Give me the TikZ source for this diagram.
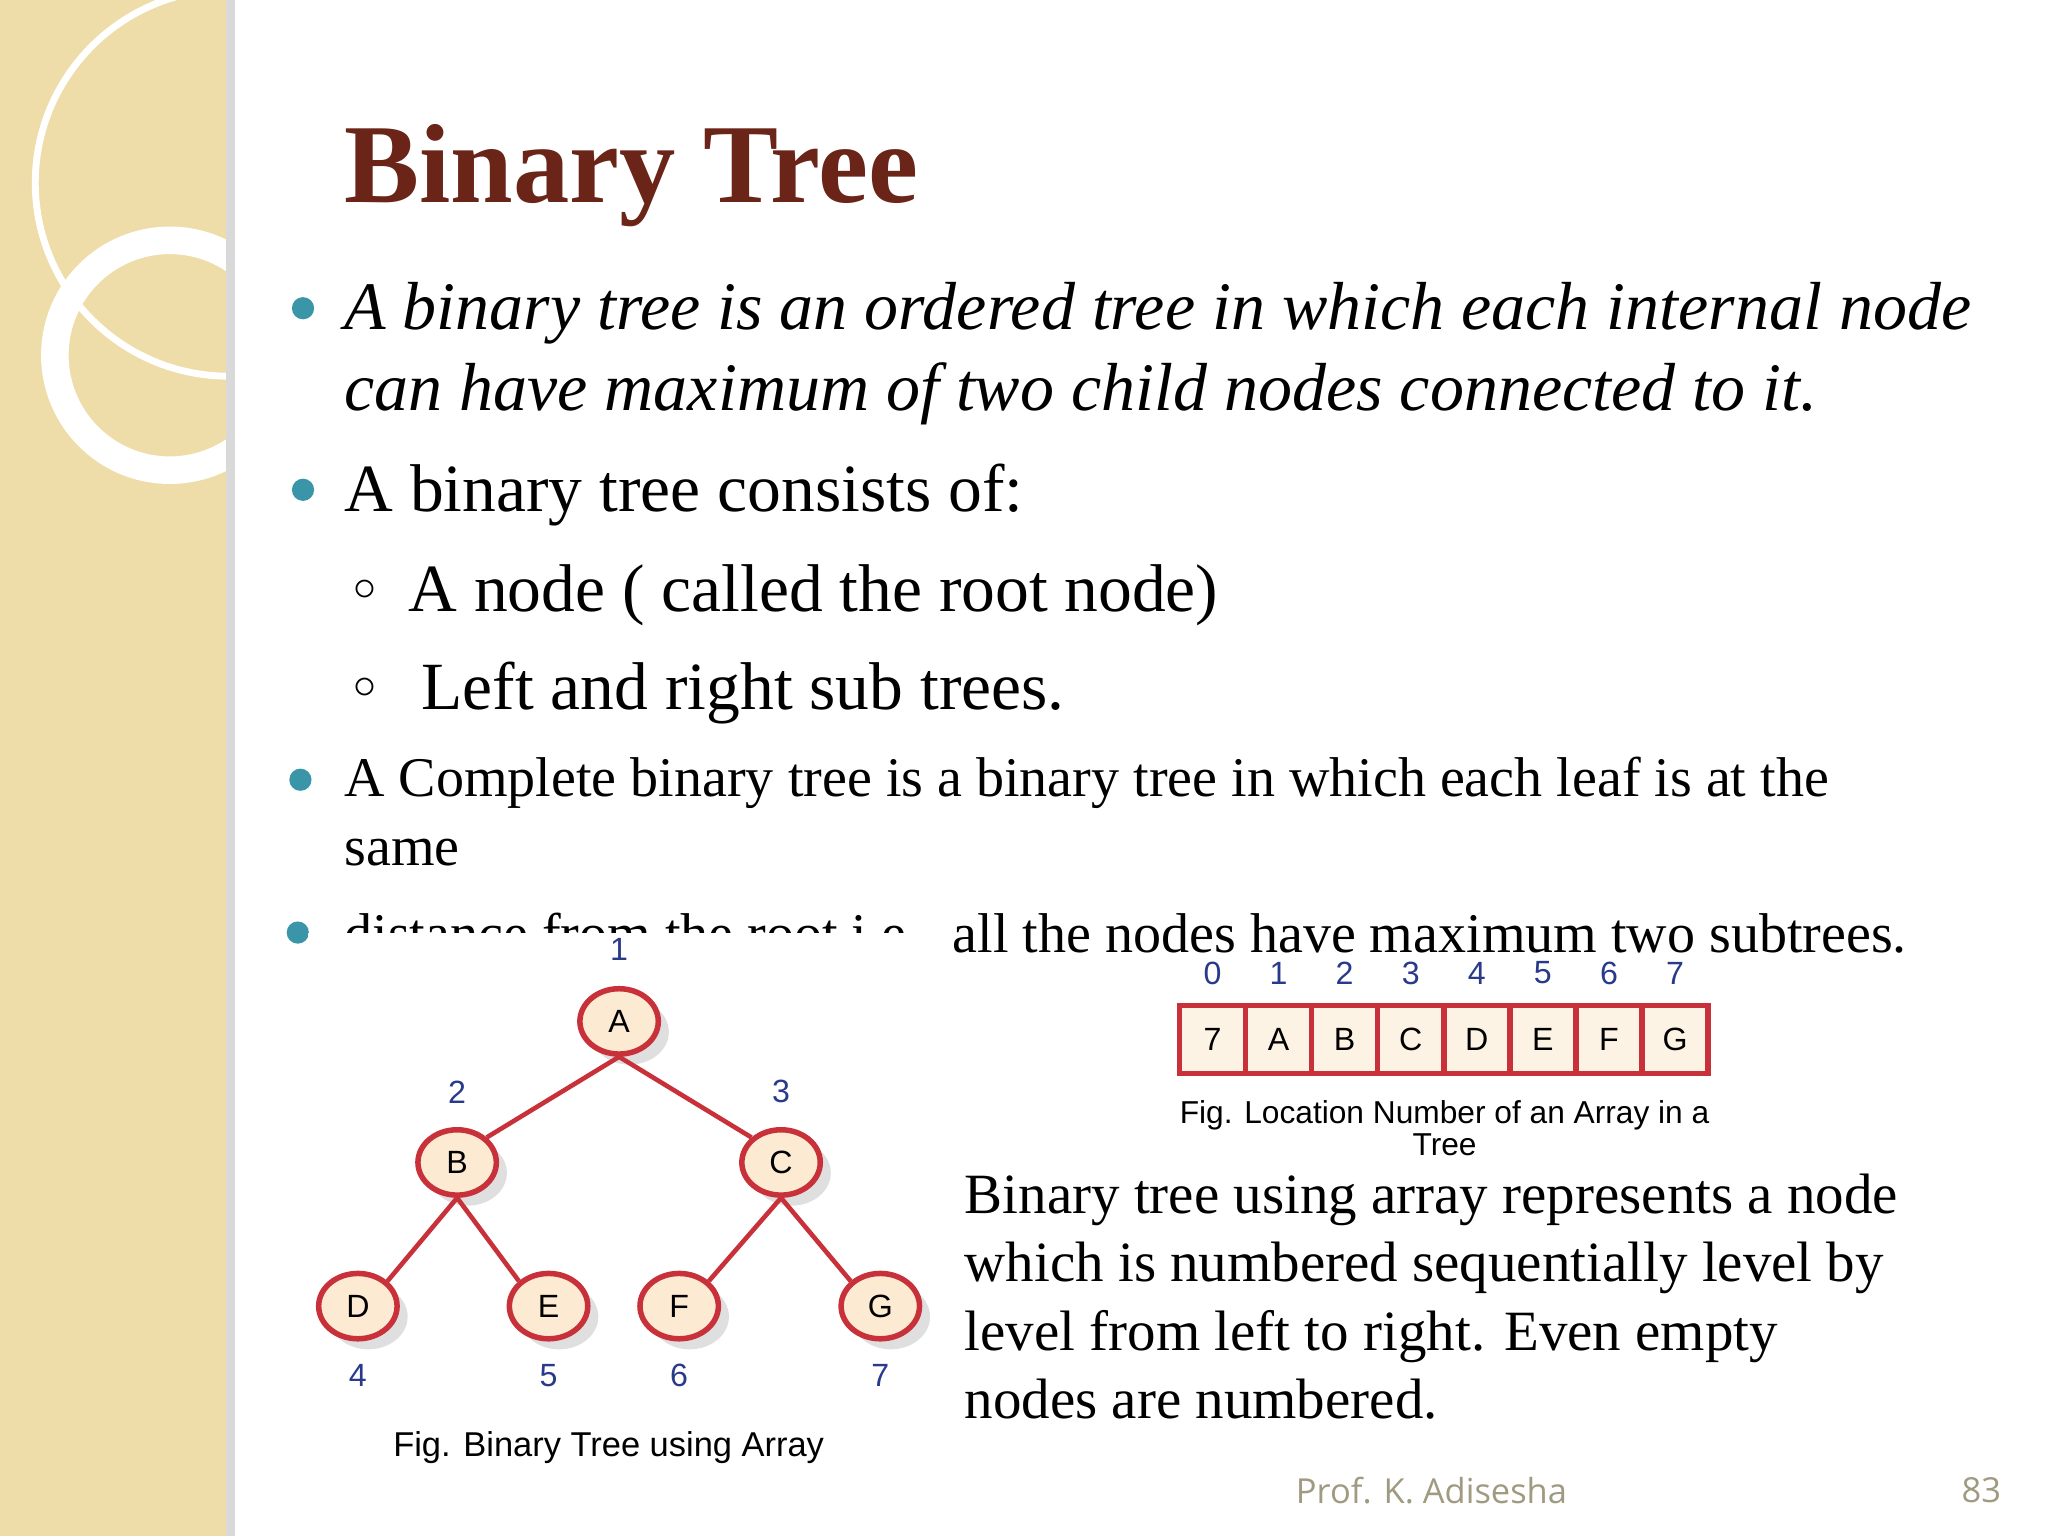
\documentclass[tikz,border=0pt]{standalone}
\usepackage{fontspec}
\setmainfont{Liberation Serif}
\newfontfamily\sansf{Liberation Sans}
\newfontfamily\footf{Open Sans}
\usetikzlibrary{shadows,shapes.geometric}
\definecolor{band}{HTML}{EEDDA8}
\definecolor{title}{HTML}{6A2418}
\definecolor{teal}{HTML}{3A95A8}
\definecolor{tred}{HTML}{C8303A}
\definecolor{tfill}{HTML}{FCEBD2}
\definecolor{foot}{HTML}{A09A80}
\definecolor{idx}{HTML}{2A3A8A}
\tikzset{
 tnode/.style={ellipse,draw=tred,line width=1.2pt,fill=tfill,minimum width=0.6cm,minimum height=0.5cm,inner sep=0pt,font=\sansf\fontsize{7}{8}\selectfont,drop shadow={opacity=0.25}},
 tnum/.style={font=\sansf\fontsize{7}{8}\selectfont,text=idx},
 cell/.style={draw=tred,line width=1.2pt,fill=tfill!60,minimum width=0.506cm,minimum height=0.52cm,inner sep=0pt,font=\sansf\fontsize{7}{8}\selectfont},
 edge/.style={tred,line width=1pt},
 bul/.style={circle,fill=teal,inner sep=0pt,minimum size=0.17cm},
 txt/.style={anchor=base west,inner sep=0pt},
}
\begin{document}
\begin{tikzpicture}[x=0.01cm,y=-0.01cm]
\useasboundingbox (0,0) rectangle (1568,1176);
\fill[white] (0,0) rectangle (1568,1176);
\fill[band] (0,0) rectangle (173,1176);
\fill[black!15] (173,0) rectangle (180,1176);
\begin{scope}
\clip (0,0) rectangle (173,1176);
\draw[white,line width=1.5pt] (175,140) circle (148);
\draw[white,line width=6pt] (130,272) circle (88);
\end{scope}
\node[txt,font=\bfseries\fontsize{24.5}{30}\selectfont,text=title] (ttl) at (263,155) {Binary Tree};
\node[bul] (b1) at (232,236) {};
\node[txt,font=\itshape\fontsize{14.8}{17}\selectfont] (t1) at (263,252) {A binary tree is an ordered tree in which each internal node};
\node[txt,font=\itshape\fontsize{14.8}{17}\selectfont] (t1b) at (263,314) {can have maximum of two child nodes connected to it.};
\node[bul] (b2) at (232,375) {};
\node[txt,font=\fontsize{14.7}{17}\selectfont] (t2) at (263,392) {A binary tree consists of:};
\node[txt,font=\fontsize{10}{12}\selectfont] (s1) at (270,460) {$\circ$};
\node[txt,font=\fontsize{14.7}{17}\selectfont] (t3) at (312,468) {A node ( called the root node)};
\node[txt,font=\fontsize{10}{12}\selectfont] (s2) at (270,535) {$\circ$};
\node[txt,font=\fontsize{14.7}{17}\selectfont] (t4) at (322,543) {Left and right sub trees.};
\node[bul] (b3) at (230,597) {};
\node[txt,font=\fontsize{12.2}{14}\selectfont] (t5) at (263,610) {A Complete binary tree is a binary tree in which each leaf is at the};
\node[txt,font=\fontsize{12.2}{14}\selectfont] (t5b) at (263,663) {same};
\node[bul] (b4) at (228,714) {};
\node[txt,font=\fontsize{12.2}{14}\selectfont] (t6) at (263,729) {distance from the root i.e. \ all the nodes have maximum two subtrees.};
\fill[white] (236,714) rectangle (712,1135);
\fill[white] (712,734) rectangle (1330,895);
\node[tnode] (A) at (474,782) {A};
\node[tnode] (B) at (350,890) {B};
\node[tnode] (C) at (598,890) {C};
\node[tnode] (D) at (274,1000) {D};
\node[tnode] (E) at (420,1000) {E};
\node[tnode] (F) at (520,1000) {F};
\node[tnode] (G) at (674,1000) {G};
\draw[edge] (A.south) -- (B.north east);
\draw[edge] (A.south) -- (C.north west);
\draw[edge] (B.south) -- (D.north east);
\draw[edge] (B.south) -- (E.north west);
\draw[edge] (C.south) -- (F.north east);
\draw[edge] (C.south) -- (G.north west);
\node[tnum] (n1) at (474,727) {1};
\node[tnum] (n2) at (350,836) {2};
\node[tnum] (n3) at (598,836) {3};
\node[tnum] (n4) at (274,1053) {4};
\node[tnum] (n5) at (420,1053) {5};
\node[tnum] (n6) at (520,1053) {6};
\node[tnum] (n7) at (674,1053) {7};
\node[font=\sansf\fontsize{7.5}{9}\selectfont] (cap1) at (466,1108) {Fig. Binary Tree using Array};
\foreach \v [count=\i from 0] in {7,A,B,C,D,E,F,G} {
  \node[cell] (c\i) at (928.3+50.6*\i,796) {\v};
  \node[tnum] (k\i) at (928.3+50.6*\i,745) {\i};
}
\node[font=\sansf\fontsize{6.9}{8}\selectfont,align=center] (cap2) at (1106,864) {Fig. Location Number of an Array in a\\[-1pt]Tree};
\node[txt,font=\fontsize{12.4}{14.9}\selectfont,align=left,anchor=north west] (para) at (738,898) {Binary tree using array represents a node\\which is numbered sequentially level by\\level from left to right. Even empty\\nodes are numbered.};
\node[font=\footf\fontsize{7.5}{10}\selectfont,text=foot] (ft) at (1096,1141) {Prof. K. Adisesha};
\node[font=\footf\fontsize{7.5}{10}\selectfont,text=foot] (pg) at (1517,1141) {83};
\end{tikzpicture}
\end{document}
